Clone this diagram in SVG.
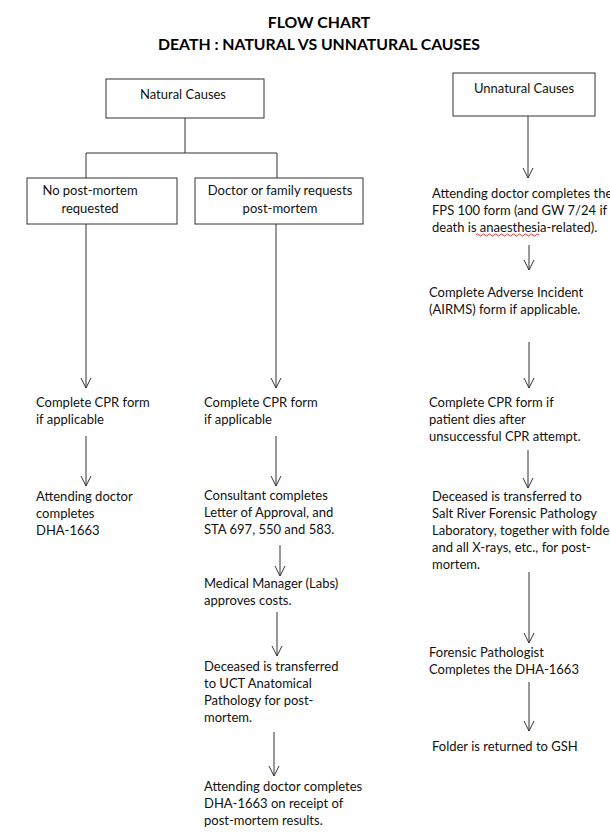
<svg xmlns="http://www.w3.org/2000/svg" width="610" height="832" viewBox="0 0 610 832">
<defs>
<style>
.t{font-family:Lato,"Open Sans","Liberation Sans",sans-serif;font-size:13px;fill:#111}
.c{text-anchor:middle}
.h{font-family:Lato,"Open Sans","Liberation Sans",sans-serif;font-size:15.8px;font-weight:bold;fill:#000;text-anchor:middle}
.box{fill:#fff;stroke:#333;stroke-width:1}
.ln{stroke:#333;stroke-width:1;fill:none}
</style>
<marker id="ah" markerUnits="userSpaceOnUse" viewBox="0 0 12 12" refX="11" refY="6" markerWidth="12" markerHeight="12" orient="auto">
<path d="M1,1 L11,6 L1,11" fill="none" stroke="#333" stroke-width="1"/>
</marker>
</defs>
<rect width="610" height="832" fill="#fff"/>
<g id="title">
<text class="h" x="319" y="28">FLOW CHART</text>
<text class="h" x="319" y="50">DEATH : NATURAL VS UNNATURAL CAUSES</text>
</g>
<g id="connectors">
<polyline class="ln" points="185,118 185,153"/>
<polyline class="ln" points="86,178 86,153 277,153 277,178"/>
<line class="ln" x1="86" y1="224" x2="86" y2="388" marker-end="url(#ah)"/>
<line class="ln" x1="276" y1="224" x2="276" y2="388" marker-end="url(#ah)"/>
<line class="ln" x1="86" y1="436" x2="86" y2="486" marker-end="url(#ah)"/>
<line class="ln" x1="276" y1="436" x2="276" y2="486" marker-end="url(#ah)"/>
<line class="ln" x1="280" y1="545" x2="280" y2="576" marker-end="url(#ah)"/>
<line class="ln" x1="277" y1="612" x2="277" y2="656" marker-end="url(#ah)"/>
<line class="ln" x1="274" y1="732" x2="274" y2="776" marker-end="url(#ah)"/>
<line class="ln" x1="528" y1="116" x2="528" y2="178" marker-end="url(#ah)"/>
<line class="ln" x1="529" y1="245" x2="529" y2="270" marker-end="url(#ah)"/>
<line class="ln" x1="529" y1="342" x2="529" y2="388" marker-end="url(#ah)"/>
<line class="ln" x1="528" y1="450" x2="528" y2="488" marker-end="url(#ah)"/>
<line class="ln" x1="529" y1="572" x2="529" y2="643" marker-end="url(#ah)"/>
<line class="ln" x1="529" y1="682" x2="529" y2="731" marker-end="url(#ah)"/>
</g>
<g id="natural">
<rect class="box" x="106" y="79" width="158" height="39"/>
<text class="t c" x="183" y="99">Natural Causes</text>
</g>
<g id="no-pm">
<rect class="box" x="27" y="178" width="150" height="46"/>
<text class="t c" x="90" y="195">No post-mortem</text>
<text class="t c" x="90" y="213">requested</text>
</g>
<g id="req-pm">
<rect class="box" x="195" y="178" width="168" height="46"/>
<text class="t c" x="280" y="195">Doctor or family requests</text>
<text class="t c" x="280" y="213">post-mortem</text>
</g>
<g id="l-cpr">
<text class="t" x="36" y="407">Complete CPR form</text>
<text class="t" x="36" y="424">if applicable</text>
</g>
<g id="l-dha">
<text class="t" x="36" y="501">Attending doctor</text>
<text class="t" x="36" y="518">completes</text>
<text class="t" x="36" y="535">DHA-1663</text>
</g>
<g id="m-cpr">
<text class="t" x="204" y="407">Complete CPR form</text>
<text class="t" x="204" y="424">if applicable</text>
</g>
<g id="m-consultant">
<text class="t" x="204" y="500">Consultant completes</text>
<text class="t" x="204" y="517">Letter of Approval, and</text>
<text class="t" x="204" y="534">STA 697, 550 and 583.</text>
</g>
<g id="m-manager">
<text class="t" x="204" y="588">Medical Manager (Labs)</text>
<text class="t" x="204" y="605">approves costs.</text>
</g>
<g id="m-transfer">
<text class="t" x="204" y="671">Deceased is transferred</text>
<text class="t" x="204" y="688">to UCT Anatomical</text>
<text class="t" x="204" y="705">Pathology for post-</text>
<text class="t" x="204" y="722">mortem.</text>
</g>
<g id="m-dha">
<text class="t" x="204" y="791">Attending doctor completes</text>
<text class="t" x="204" y="808">DHA-1663 on receipt of</text>
<text class="t" x="204" y="825">post-mortem results.</text>
</g>
<g id="unnatural">
<rect class="box" x="453" y="73" width="142" height="43"/>
<text class="t c" x="524" y="93">Unnatural Causes</text>
</g>
<g id="r-fps">
<text class="t" x="432" y="198">Attending doctor completes the</text>
<text class="t" x="432" y="215">FPS 100 form (and GW 7/24 if the</text>
<text class="t" x="432" y="232">death is anaesthesia-related).</text>
<path d="M476,235 q1.5,-2 3,0 t3,0 t3,0 t3,0 t3,0 t3,0 t3,0 t3,0 t3,0 t3,0 t3,0 t3,0 t3,0 t3,0 t3,0 t3,0 t3,0 t3,0 t3,0 t3,0 t3,0" fill="none" stroke="#d42020" stroke-width="0.9"/>
</g>
<g id="r-airms">
<text class="t" x="429" y="297">Complete Adverse Incident</text>
<text class="t" x="429" y="314">(AIRMS) form if applicable.</text>
</g>
<g id="r-cpr">
<text class="t" x="429" y="407">Complete CPR form if</text>
<text class="t" x="429" y="424">patient dies after</text>
<text class="t" x="429" y="441">unsuccessful CPR attempt.</text>
</g>
<g id="r-transfer">
<text class="t" x="432" y="501">Deceased is transferred to</text>
<text class="t" x="432" y="518">Salt River Forensic Pathology</text>
<text class="t" x="432" y="535">Laboratory, together with folder</text>
<text class="t" x="432" y="552">and all X-rays, etc., for post-</text>
<text class="t" x="432" y="569">mortem.</text>
</g>
<g id="r-forensic">
<text class="t" x="429" y="657">Forensic Pathologist</text>
<text class="t" x="429" y="674">Completes the DHA-1663</text>
</g>
<g id="r-folder">
<text class="t" x="432" y="751">Folder is returned to GSH</text>
</g>
</svg>
